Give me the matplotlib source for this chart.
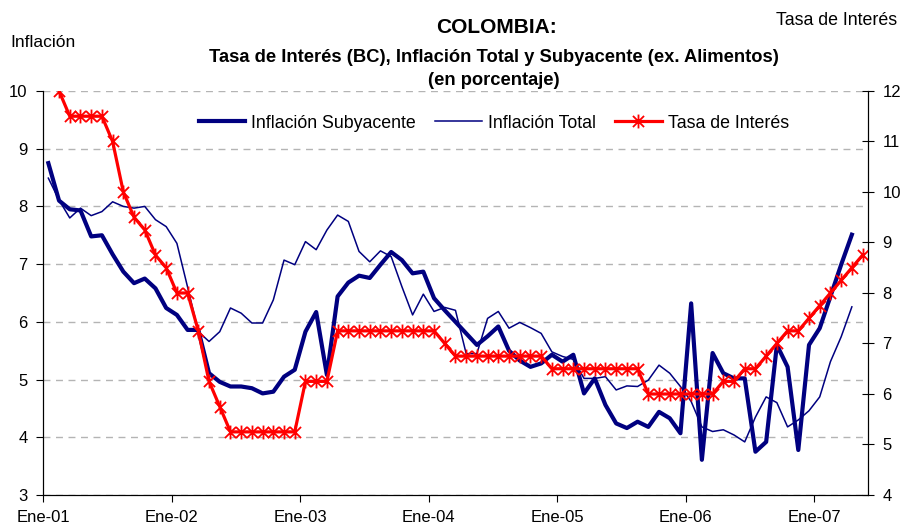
import numpy as np
import pandas as pd
import matplotlib
matplotlib.use('Agg')
import matplotlib.pyplot as plt
from matplotlib.path import Path

# meses de ene-01 a may-07 (eje de categorias)
meses = pd.date_range('2001-01-01', '2007-05-01', freq='MS')
etiquetas = ['Ene-01', 'Ene-02', 'Ene-03', 'Ene-04', 'Ene-05', 'Ene-06', 'Ene-07']

# ene-01 .. abr-07
subyacente = [8.75, 8.10, 7.95, 7.93, 7.48, 7.50, 7.17, 6.87, 6.67, 6.75, 6.58, 6.24,
              6.12, 5.86, 5.86, 5.11, 4.96, 4.88, 4.88, 4.85, 4.76, 4.79, 5.05, 5.17,
              5.83, 6.17, 5.08, 6.44, 6.68, 6.80, 6.76, 6.99, 7.21, 7.07, 6.84, 6.87,
              6.41, 6.20, 6.00, 5.80, 5.60, 5.75, 5.92, 5.50, 5.33, 5.22, 5.28, 5.43,
              5.31, 5.43, 4.76, 5.02, 4.56, 4.24, 4.16, 4.27, 4.18, 4.44, 4.33, 4.07,
              6.32, 3.61, 5.46, 5.11, 5.02, 5.02, 3.75, 3.92, 5.60, 5.22, 3.78, 5.60,
              5.89, 6.44, 6.99, 7.51]
total = [8.49, 8.11, 7.80, 7.97, 7.84, 7.91, 8.08, 8.00, 7.97, 8.00, 7.77, 7.65,
         7.36, 6.60, 5.83, 5.66, 5.83, 6.24, 6.15, 5.98, 5.98, 6.38, 7.07, 6.99,
         7.39, 7.25, 7.59, 7.85, 7.74, 7.22, 7.04, 7.23, 7.13, 6.61, 6.12, 6.48,
         6.18, 6.25, 6.20, 5.45, 5.45, 6.06, 6.18, 5.89, 5.99, 5.90, 5.80, 5.48,
         5.40, 5.35, 5.02, 5.02, 5.05, 4.82, 4.89, 4.88, 4.99, 5.25, 5.11, 4.88,
         4.62, 4.18, 4.10, 4.13, 4.04, 3.92, 4.35, 4.70, 4.60, 4.18, 4.30, 4.46,
         4.70, 5.31, 5.74, 6.26]
# feb-01 .. may-07
tasa = [12.0, 11.5, 11.5, 11.5, 11.5, 11.0, 10.0, 9.5, 9.25, 8.75, 8.5, 8.0,
        8.0, 7.25, 6.25, 5.75, 5.25, 5.25, 5.25, 5.25, 5.25, 5.25, 5.25, 6.25,
        6.25, 6.25, 7.25, 7.25, 7.25, 7.25, 7.25, 7.25, 7.25, 7.25, 7.25, 7.25,
        7.0, 6.75, 6.75, 6.75, 6.75, 6.75, 6.75, 6.75, 6.75, 6.75, 6.5, 6.5,
        6.5, 6.5, 6.5, 6.5, 6.5, 6.5, 6.5, 6.0, 6.0, 6.0, 6.0, 6.0,
        6.0, 6.0, 6.25, 6.25, 6.5, 6.5, 6.75, 7.0, 7.25, 7.25, 7.5, 7.75,
        8.0, 8.25, 8.5, 8.75]

plt.rcParams['font.family'] = ['Liberation Sans', 'DejaVu Sans']
plt.rcParams['font.size'] = 12

azul = '#000080'
fig = plt.figure(figsize=(9.01, 5.28), dpi=100)
ax1 = fig.add_axes([0.0477, 0.0625, 0.9156, 0.7652])
ax2 = ax1.twinx()

x = np.arange(len(meses)) + 0.5
ax1.plot(x[:len(subyacente)], subyacente, color=azul, lw=3, label='Inflación Subyacente')
ax1.plot(x[:len(total)], total, color=azul, lw=1.1, label='Inflación Total')

# marcador tipo asterisco de excel
estrella = Path([(-1, -1), (1, 1), (-1, 1), (1, -1), (0, -1.25), (0, 1.25)],
                [Path.MOVETO, Path.LINETO] * 3)
ax2.plot(x[1:1 + len(tasa)], tasa, color='red', lw=2.3, marker=estrella, ms=10,
         mew=1.3, mec='red', fillstyle='none', label='Tasa de Interés')

ax1.set_xlim(0, len(meses))
ax1.set_xticks(np.arange(0, len(meses), 12))
ax1.set_xticklabels(etiquetas)
ax1.set_ylim(3, 10)
ax2.set_ylim(4, 12)
ax1.set_yticks(range(3, 11))
ax2.set_yticks(range(4, 13))

ax1.yaxis.grid(True, ls=(0, (5, 4)), color='#b4b4b4', lw=1)
ax1.set_axisbelow(True)
for a in (ax1, ax2):
    a.spines['top'].set_visible(False)
ax1.tick_params(axis='y', direction='out', length=5, pad=6)
ax1.tick_params(axis='x', direction='out', length=5, pad=6)
ax2.tick_params(axis='y', direction='inout', length=9, pad=6)

h1, l1 = ax1.get_legend_handles_labels()
h2, l2 = ax2.get_legend_handles_labels()
fig.legend(h1 + h2, l1 + l2, loc='center', bbox_to_anchor=(0.548, 0.767), ncol=3,
           frameon=False, handlelength=2.6, columnspacing=1.1, handletextpad=0.35,
           fontsize=12.8)

fig.text(0.5505, 0.947, 'COLOMBIA:', ha='center', va='center', fontsize=15, fontweight='bold')
fig.text(0.548, 0.892, 'Tasa de Interés (BC), Inflación Total y Subyacente (ex. Alimentos)',
         ha='center', va='center', fontsize=13.2, fontweight='bold')
fig.text(0.548, 0.848, '(en porcentaje)', ha='center', va='center', fontsize=13.2, fontweight='bold')
fig.text(0.011, 0.920, 'Inflación', ha='left', va='center', fontsize=12.5)
fig.text(0.996, 0.962, 'Tasa de Interés', ha='right', va='center', fontsize=12.8)

fig.savefig('out.png', dpi=100)
